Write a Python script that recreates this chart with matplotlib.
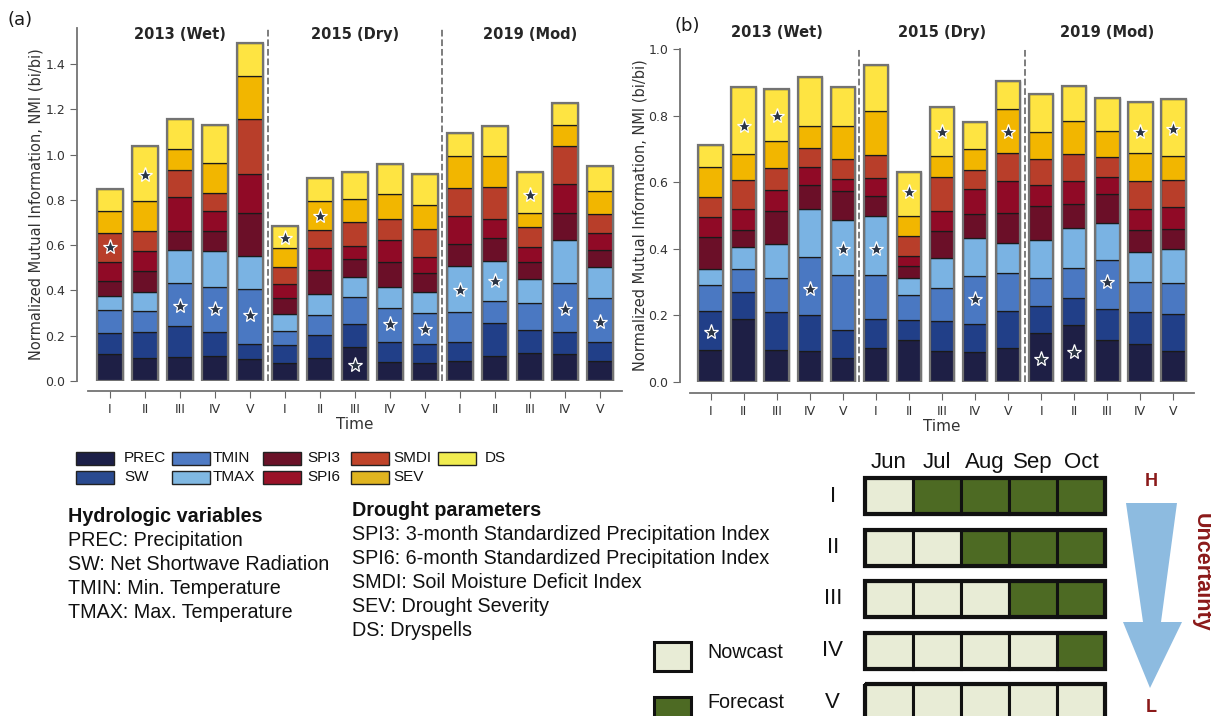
import numpy as np
import matplotlib.pyplot as plt
import seaborn as sns
from matplotlib.patches import Rectangle, Polygon

sns.set_style("ticks")
plt.rcParams['font.family'] = ['DejaVu Sans']

# Nama variabel dan warna tiap lapisan batang
variables = ['PREC', 'SW', 'TMIN', 'TMAX', 'SPI3', 'SPI6', 'SMDI', 'SEV', 'DS']
bar_colors = ['#1e1f45', '#213f88', '#4a78c2', '#7ab3e3', '#6b0f28',
              '#900a26', '#b83e2a', '#f2b600', '#fee442']
legend_colors = ['#1c1f48', '#2a4a90', '#4f7bc4', '#80b8e2', '#6b1228',
                 '#9a1228', '#c0442a', '#e0b420', '#f0ec50']

periods = ['2013 (Wet)', '2015 (Dry)', '2019 (Mod)']
stages = ['I', 'II', 'III', 'IV', 'V']

# Panel (a): NMI tiap variabel (nilai per lapisan)
prec_a = [0.119, 0.103, 0.108, 0.112, 0.097, 0.078, 0.100, 0.152, 0.085, 0.078, 0.090, 0.111, 0.125, 0.119, 0.088]
sw_a   = [0.092, 0.115, 0.137, 0.103, 0.067, 0.081, 0.103, 0.099, 0.089, 0.084, 0.081, 0.147, 0.100, 0.096, 0.083]
tmin_a = [0.103, 0.091, 0.187, 0.202, 0.241, 0.064, 0.089, 0.122, 0.147, 0.137, 0.136, 0.096, 0.118, 0.217, 0.194]
tmax_a = [0.062, 0.084, 0.147, 0.159, 0.149, 0.073, 0.091, 0.087, 0.093, 0.094, 0.201, 0.178, 0.106, 0.191, 0.137]
spi3_a = [0.068, 0.092, 0.083, 0.089, 0.187, 0.072, 0.108, 0.078, 0.111, 0.083, 0.096, 0.102, 0.079, 0.118, 0.077]
spi6_a = [0.081, 0.091, 0.153, 0.085, 0.173, 0.059, 0.095, 0.059, 0.098, 0.074, 0.123, 0.082, 0.063, 0.128, 0.074]
smdi_a = [0.128, 0.089, 0.118, 0.083, 0.244, 0.076, 0.082, 0.104, 0.092, 0.123, 0.125, 0.140, 0.088, 0.170, 0.085]
sev_a  = [0.100, 0.129, 0.094, 0.132, 0.192, 0.083, 0.128, 0.102, 0.112, 0.105, 0.143, 0.139, 0.065, 0.093, 0.103]
ds_a   = [0.096, 0.245, 0.133, 0.167, 0.143, 0.099, 0.103, 0.122, 0.131, 0.137, 0.100, 0.132, 0.181, 0.098, 0.109]
star_a = [0.59, 0.91, 0.33, 0.32, 0.29, 0.63, 0.73, 0.07, 0.25, 0.23, 0.40, 0.44, 0.82, 0.32, 0.26]

# Panel (b)
prec_b = [0.097, 0.190, 0.097, 0.092, 0.073, 0.102, 0.127, 0.092, 0.090, 0.102, 0.147, 0.170, 0.125, 0.115, 0.092]
sw_b   = [0.115, 0.081, 0.113, 0.108, 0.084, 0.086, 0.060, 0.090, 0.085, 0.111, 0.080, 0.083, 0.093, 0.095, 0.113]
tmin_b = [0.079, 0.067, 0.101, 0.174, 0.163, 0.133, 0.075, 0.101, 0.144, 0.113, 0.086, 0.090, 0.147, 0.091, 0.091]
tmax_b = [0.049, 0.068, 0.102, 0.145, 0.166, 0.177, 0.050, 0.088, 0.112, 0.090, 0.113, 0.118, 0.113, 0.090, 0.104]
spi3_b = [0.094, 0.050, 0.100, 0.074, 0.087, 0.060, 0.036, 0.082, 0.075, 0.093, 0.102, 0.073, 0.087, 0.065, 0.058]
spi6_b = [0.062, 0.065, 0.065, 0.053, 0.036, 0.056, 0.029, 0.060, 0.075, 0.095, 0.063, 0.069, 0.050, 0.063, 0.068]
smdi_b = [0.060, 0.087, 0.066, 0.057, 0.060, 0.069, 0.060, 0.103, 0.055, 0.085, 0.080, 0.083, 0.062, 0.084, 0.080]
sev_b  = [0.091, 0.078, 0.080, 0.067, 0.101, 0.132, 0.060, 0.062, 0.065, 0.131, 0.081, 0.099, 0.076, 0.086, 0.072]
ds_b   = [0.065, 0.199, 0.155, 0.145, 0.115, 0.137, 0.135, 0.148, 0.080, 0.084, 0.113, 0.104, 0.100, 0.151, 0.171]
star_b = [0.15, 0.77, 0.80, 0.28, 0.40, 0.40, 0.57, 0.75, 0.25, 0.75, 0.07, 0.09, 0.30, 0.75, 0.76]

# Skema nowcast (0) / forecast (1) per bulan
months = ['Jun', 'Jul', 'Aug', 'Sep', 'Oct']
scheme = [[0, 1, 1, 1, 1],
          [0, 0, 1, 1, 1],
          [0, 0, 0, 1, 1],
          [0, 0, 0, 0, 1],
          [0, 0, 0, 0, 0]]
nowcast_color = '#e8ecd6'
forecast_color = '#4d6a23'

hydro_text = ['PREC: Precipitation', 'SW: Net Shortwave Radiation',
              'TMIN: Min. Temperature', 'TMAX: Max. Temperature']
drought_text = ['SPI3: 3-month Standardized Precipitation Index',
                'SPI6: 6-month Standardized Precipitation Index',
                'SMDI: Soil Moisture Deficit Index',
                'SEV: Drought Severity', 'DS: Dryspells']

arial = 'Liberation Sans'

W, H = 1211, 716
fig = plt.figure(figsize=(W / 100, H / 100), dpi=100)


def stacked_panel(ax, layers, stars, ymax, yticks, title_y, off_y, off_x):
    x = np.arange(15)
    bottom = np.zeros(15)
    for vals, col in zip(layers, bar_colors):
        vals = np.array(vals)
        ax.bar(x, vals, bottom=bottom, width=0.75, color=col,
               edgecolor='#1a1a1a', linewidth=0.9, zorder=2)
        bottom += vals
    # garis tepi seluruh batang
    ax.bar(x, bottom, width=0.75, color='none', edgecolor='0.45',
           linewidth=1.6, zorder=3)
    ax.plot(x, stars, linestyle='none', marker='*', markersize=11,
            markerfacecolor='#2b3545', markeredgecolor='white',
            markeredgewidth=0.9, zorder=4)
    for xv in [4.5, 9.5]:
        ax.axvline(xv, color='0.45', linestyle='--', linewidth=1.3, zorder=1)
    for i, p in enumerate(periods):
        ax.text(2 + 5 * i, title_y, p, ha='center', va='center',
                fontsize=10.5, fontweight='bold', color='0.15')
    ax.set_xlim(-0.63, 14.63)
    ax.set_ylim(0, ymax)
    ax.set_xticks(x)
    ax.set_xticklabels(stages * 3)
    ax.set_yticks(yticks)
    ax.set_yticklabels(['%.1f' % t for t in yticks])
    ax.tick_params(labelsize=9, colors='0.4', labelcolor='0.2', length=5)
    ax.set_xlabel('Time', fontsize=11, color='0.2', labelpad=1)
    ax.set_ylabel('Normalized Mutual Information, NMI (bi/bi)',
                  fontsize=10.5, color='0.2', labelpad=1)
    for s in ['top', 'right']:
        ax.spines[s].set_visible(False)
    ax.spines['left'].set_position(('outward', off_x))
    ax.spines['bottom'].set_position(('outward', off_y))
    for s in ['left', 'bottom']:
        ax.spines[s].set_color('0.45')
        ax.spines[s].set_linewidth(1.3)


# Panel (a)
ax_a = fig.add_axes([88 / W, 1 - 381 / H, 534 / W, 353 / H])
stacked_panel(ax_a, [prec_a, sw_a, tmin_a, tmax_a, spi3_a, spi6_a, smdi_a, sev_a, ds_a],
              star_a, 1.56, np.arange(0, 1.41, 0.2), 1.53, 7, 8)

# Panel (b)
ax_b = fig.add_axes([690 / W, 1 - 382 / H, 504 / W, 333 / H])
stacked_panel(ax_b, [prec_b, sw_b, tmin_b, tmax_b, spi3_b, spi6_b, smdi_b, sev_b, ds_b],
              star_b, 1.0, np.arange(0, 1.01, 0.2), 1.05, 8, 7)
ax_b.patch.set_alpha(0)

# Lapisan piksel untuk legenda dan teks keterangan
ov = fig.add_axes([0, 0, 1, 1], zorder=-1)
ov.set_xlim(0, W)
ov.set_ylim(H, 0)
ov.axis('off')

fig.text(20 / W, 1 - 20 / H, '(a)', fontsize=13, ha='center', va='center', color='0.1')
fig.text(687 / W, 1 - 26 / H, '(b)', fontsize=13, ha='center', va='center', color='0.1')

# Legenda warna variabel (5 kolom x 2 baris)
col_x = [76, 172, 263, 351, 438]
lab_x = [124, 213, 307, 393, 485]
row_y = [458, 477]
for k, (name, col) in enumerate(zip(variables, legend_colors)):
    c, r = k // 2, k % 2
    ov.add_patch(Rectangle((col_x[c], row_y[r] - 6.5), 38, 13, facecolor=col,
                           edgecolor='#222222', linewidth=1.0))
    ov.text(lab_x[c], row_y[r], name, fontsize=11, family=arial,
            va='center', ha='left', color='#111111')

# Keterangan singkatan
ov.text(68, 517, 'Hydrologic variables', fontsize=14.2, family=arial,
        fontweight='bold', va='center', color='#111111')
for i, t in enumerate(hydro_text):
    ov.text(68, 541 + 24 * i, t, fontsize=14.2, family=arial, va='center', color='#111111')
ov.text(352, 510, 'Drought parameters', fontsize=14.2, family=arial,
        fontweight='bold', va='center', color='#111111')
for i, t in enumerate(drought_text):
    ov.text(352, 535 + 24 * i, t, fontsize=14.2, family=arial, va='center', color='#111111')

# Legenda nowcast / forecast
for yy, ty, col, lab in [(642, 652, nowcast_color, 'Nowcast'),
                         (697, 702, forecast_color, 'Forecast')]:
    ov.add_patch(Rectangle((654, yy), 37, 29, facecolor=col, edgecolor='#111111',
                           linewidth=2.2, clip_on=False))
    ov.text(707, ty, lab, fontsize=14.2, family=arial, va='center', color='#111111')

# Panah ketidakpastian
arrow = Polygon([(1126, 503), (1177, 503), (1161, 622), (1182, 622), (1150, 688),
                 (1123, 622), (1143, 622)], closed=True, facecolor='#8dbbe0',
                edgecolor='none')
ov.add_patch(arrow)
ov.text(1151, 481, 'H', fontsize=13, fontweight='bold', family=arial,
        color='#8b1a1a', ha='center', va='center')
ov.text(1151, 708, 'L', fontsize=13, fontweight='bold', family=arial,
        color='#8b1a1a', ha='center', va='center')
ov.text(1201, 572, 'Uncertainty', fontsize=15.5, fontweight='bold', family=arial,
        color='#8b1a1a', ha='center', va='center', rotation=-90)

# Diagram skema nowcast / forecast
pitch = 51.5
ax_g = fig.add_axes([865 / W, 1 - (478 + 5 * pitch) / H, 240 / W, 5 * pitch / H])
ax_g.set_xlim(0, 5)
ax_g.set_ylim(5, 0)
ax_g.axis('off')
row_h = 36 / pitch
for i, row in enumerate(scheme):
    for j, v in enumerate(row):
        ax_g.add_patch(Rectangle((j, i), 1, row_h,
                                 facecolor=forecast_color if v else nowcast_color,
                                 edgecolor='#111111', linewidth=2.2, clip_on=False))
    ax_g.add_patch(Rectangle((0, i), 5, row_h, facecolor='none',
                             edgecolor='#111111', linewidth=3.0, clip_on=False))
    ax_g.text(-0.67, i + row_h / 2, stages[i], fontsize=16, family=arial,
              ha='center', va='center', color='#111111')
for j, m in enumerate(months):
    ax_g.text(j + 0.5, -0.31, m, fontsize=16, family=arial,
              ha='center', va='center', color='#111111')

fig.savefig('out.png', dpi=100)
